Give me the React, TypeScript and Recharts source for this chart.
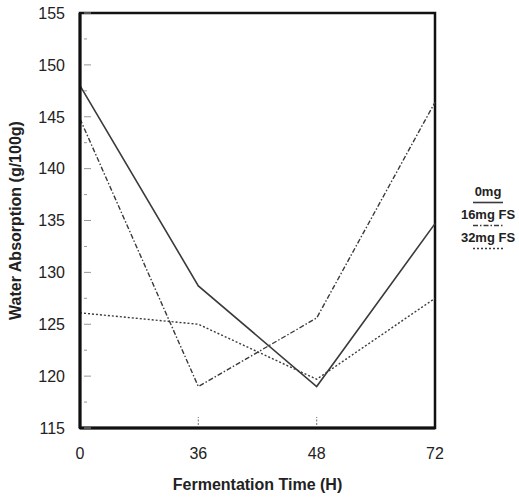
import React from 'react';
import { LineChart, Line, XAxis, YAxis, Legend, Label, ReferenceArea } from 'recharts';

// fermentation times (hours) and water absorption (g/100g) per ferulic-acid level
const times = ['0', '36', '48', '72'];
const absorption0mg = [148.0, 128.7, 119.0, 134.7];
const absorption16mg = [144.8, 119.0, 125.6, 146.4];
const absorption32mg = [126.1, 125.0, 119.7, 127.5];
const yTicks = [115, 117.5, 120, 122.5, 125, 127.5, 130, 132.5, 135, 137.5, 140, 142.5, 145, 147.5, 150, 152.5, 155];

const series = [
  { key: 'fs0', name: '0mg', dash: undefined as string | undefined, width: 1.6 },
  { key: 'fs16', name: '16mg FS', dash: '5 2 1.5 2', width: 1.4 },
  { key: 'fs32', name: '32mg FS', dash: '2 2', width: 1.4 },
];

const data = times.map((t, i) => ({
  time: t,
  fs0: absorption0mg[i],
  fs16: absorption16mg[i],
  fs32: absorption32mg[i],
}));

const FONT = '"Liberation Sans", Arial, sans-serif';
const INK = '#222';
const LINE = '#3a3a3a';

// y ticks: label on the outside, short mark on the inside of the frame
const YTick = (props: any) => {
  const { x, y, payload } = props;
  const v = payload.value as number;
  const major = v % 5 === 0;
  return (
    <g>
      <line x1={x + 19} x2={x + (major ? 26 : 22)} y1={y} y2={y} stroke="#999" strokeWidth={1} />
      {major && (
        <text x={x} y={y} dy="0.36em" textAnchor="end" fontFamily={FONT} fontSize={16} fill={INK}>
          {v}
        </text>
      )}
    </g>
  );
};

const XTick = (props: any) => {
  const { x, y, payload, index } = props;
  const inner = index > 0 && index < times.length - 1;
  return (
    <g>
      {inner && (
        <line x1={x} x2={x} y1={y - 21} y2={y - 29} stroke="#888" strokeWidth={1.2} strokeDasharray="2 1.5" />
      )}
      <text x={x} y={y} dy="0.8em" textAnchor="middle" fontFamily={FONT} fontSize={16} fill={INK}>
        {payload.value}
      </text>
    </g>
  );
};

const LegendBlock = (props: any) => {
  const { payload = [] } = props;
  return (
    <div style={{ width: 60, fontFamily: FONT, fontWeight: 700, fontSize: 13, color: INK, textAlign: 'center' }}>
      {payload.map((entry: any) => {
        const s = series.find((d) => d.key === entry.dataKey);
        return (
          <div key={entry.value}>
            <div style={{ lineHeight: '15px' }}>{entry.value}</div>
            <svg width={30} height={8} style={{ display: 'block', margin: '0 auto' }}>
              <line x1={0} x2={30} y1={3.5} y2={3.5} stroke={LINE} strokeWidth={s?.width ?? 1.4} strokeDasharray={s?.dash} />
            </svg>
          </div>
        );
      })}
    </div>
  );
};

export default function App() {
  return (
    <div style={{ position: 'absolute', left: 0, top: 0, background: '#fff' }}>
      <LineChart width={519} height={500} data={data} margin={{ top: 13, right: 84, bottom: 0, left: 0 }}>
        <XAxis
          dataKey="time"
          height={72}
          tickSize={0}
          tickMargin={18}
          tick={<XTick />}
          axisLine={{ stroke: '#111', strokeWidth: 3 }}
        >
          <Label
            value="Fermentation Time (H)"
            position="insideBottom"
            offset={10}
            style={{ fontFamily: FONT, fontWeight: 700, fontSize: 16, fill: INK }}
          />
        </XAxis>
        <YAxis
          yAxisId="left"
          width={80}
          domain={[115, 155]}
          ticks={yTicks}
          interval={0}
          tickSize={0}
          tickMargin={15}
          tick={<YTick />}
          axisLine={{ stroke: '#111', strokeWidth: 3 }}
        >
          <Label
            content={(p: any) => {
              const vb = p.viewBox;
              const cy = vb.y + vb.height / 2;
              return (
                <text
                  x={15}
                  y={cy}
                  transform={`rotate(-90, 15, ${cy})`}
                  textAnchor="middle"
                  dominantBaseline="central"
                  fontFamily={FONT}
                  fontWeight={700}
                  fontSize={16}
                  fill={INK}
                >
                  Water Absorption (g/100g)
                </text>
              );
            }}
          />
        </YAxis>
        {/* frame around the plotting area */}
        <ReferenceArea
          yAxisId="left"
          x1={times[0]}
          x2={times[times.length - 1]}
          y1={115}
          y2={155}
          fill="none"
          stroke="#111"
          strokeWidth={2.5}
          ifOverflow="visible"
        />
        <Legend
          layout="vertical"
          align="center"
          verticalAlign="middle"
          content={<LegendBlock />}
          wrapperStyle={{ left: 458, top: 184, width: 60 }}
        />
        {series.map((s) => (
          <Line
            key={s.key}
            yAxisId="left"
            type="linear"
            dataKey={s.key}
            name={s.name}
            stroke={LINE}
            strokeWidth={s.width}
            strokeDasharray={s.dash}
            dot={false}
            activeDot={false}
            isAnimationActive={false}
          />
        ))}
      </LineChart>
    </div>
  );
}
